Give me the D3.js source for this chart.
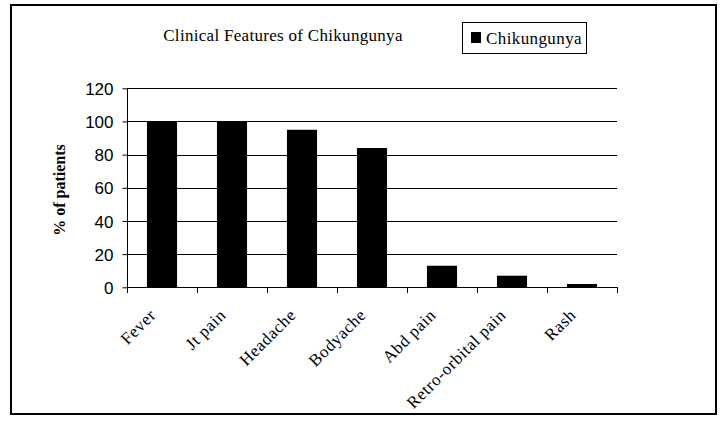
<!DOCTYPE html>
<html><head><meta charset="utf-8">
<script src="https://cdn.jsdelivr.net/npm/d3@7"></script>
<style>body{margin:0;background:#fff;}svg{display:block;} .serif{font-family:'Liberation Serif','Times New Roman',serif;} .sans{font-family:'Liberation Sans',Arial,sans-serif;}</style>
</head><body>
<svg id="c" width="724" height="422"></svg>
<script>
const categories = ["Fever","Jt pain","Headache","Bodyache","Abd pain","Retro-orbital pain","Rash"];
const values = [100,100,95,84,13,7,2];
const yTicks = [0,20,40,60,80,100,120];
const seriesName = "Chikungunya";
const title = "Clinical Features of Chikungunya";
const yTitle = "% of patients";

const svg = d3.select("#c");
svg.append("rect").attr("x",11).attr("y",5).attr("width",705).attr("height",409)
  .attr("fill","#fff").attr("stroke","#000").attr("stroke-width",2);

const x = d3.scaleBand().domain(categories).range([127,617]).paddingInner(0.57).paddingOuter(0.285);
const y = d3.scaleLinear().domain([0,120]).range([287.3,88.3]);

// gridlines
svg.append("g").selectAll("line").data(yTicks.filter(d=>d>0)).join("line")
  .attr("x1",127).attr("x2",617).attr("y1",d=>Math.round(y(d))+0.5).attr("y2",d=>Math.round(y(d))+0.5)
  .attr("stroke","#000").attr("stroke-width",1);

// bars
svg.append("g").selectAll("rect").data(values).join("rect")
  .attr("x",(d,i)=>x(categories[i])).attr("width",x.bandwidth())
  .attr("y",d=>y(d)).attr("height",d=>y(0)-y(d)).attr("fill","#000");

// y axis
const yAxis = d3.axisLeft(y).tickValues(yTicks).tickSize(5).tickPadding(9);
const gy = svg.append("g").attr("transform","translate(127.5,0)").call(yAxis);
gy.attr("font-family",null).attr("font-size",null);
gy.selectAll("text").attr("class","sans").attr("font-size",17).attr("fill","#000").attr("dy","0.36em");
gy.selectAll("line,path").attr("stroke","#000");
gy.select(".domain").attr("d","M0,"+y(120)+"V"+y(0));

// x axis
const xEdges = d3.scaleLinear().domain([0,categories.length]).range([127,617]);
const gx = svg.append("g");
gx.append("line").attr("x1",127).attr("x2",617).attr("y1",287.5).attr("y2",287.5).attr("stroke","#000");
gx.selectAll("line.t").data(d3.range(categories.length+1)).join("line").attr("class","t")
  .attr("x1",d=>Math.round(xEdges(d))+0.5).attr("x2",d=>Math.round(xEdges(d))+0.5)
  .attr("y1",287).attr("y2",293).attr("stroke","#000");
gx.selectAll("text").data(categories).join("text")
  .attr("class","serif")
  .attr("transform",d=>`translate(${x(d)+x.bandwidth()/2-5},${316}) rotate(-45)`)
  .attr("text-anchor","end")
  .attr("font-size",17).attr("letter-spacing",0.6).attr("fill","#000")
  .text(d=>d);

// y title
svg.append("text").attr("class","serif").attr("transform","translate(65,190) rotate(-90)")
  .attr("text-anchor","middle")
  .attr("font-size",16).attr("font-weight","bold").attr("fill","#000").text(yTitle);

// title
svg.append("text").attr("class","serif").attr("x",283).attr("y",41).attr("text-anchor","middle")
  .attr("font-size",17).attr("letter-spacing",0.3).attr("fill","#000").text(title);

// legend
const lg = svg.append("g");
lg.append("rect").attr("x",462.5).attr("y",22.5).attr("width",124).attr("height",31).attr("fill","#fff").attr("stroke","#000");
lg.append("rect").attr("x",471).attr("y",32).attr("width",10).attr("height",11).attr("fill","#000");
lg.append("text").attr("class","serif").attr("x",486).attr("y",44)
  .attr("font-size",17).attr("letter-spacing",0.4).attr("fill","#000").text(seriesName);
</script>
</body></html>
